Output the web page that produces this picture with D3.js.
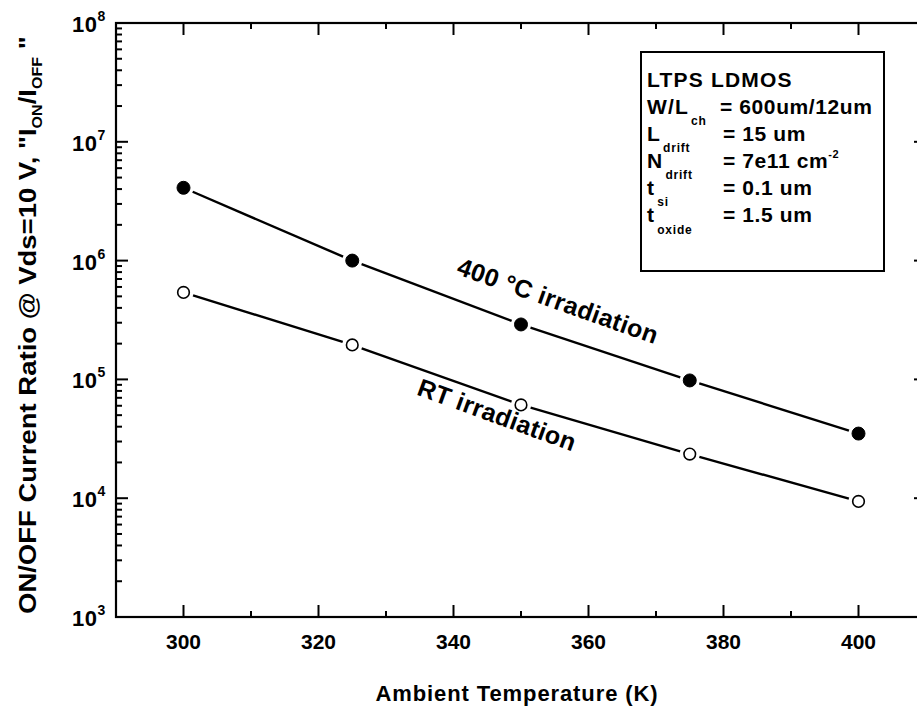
<!DOCTYPE html>
<html>
<head>
<meta charset="utf-8">
<script src="https://cdn.jsdelivr.net/npm/d3@7/dist/d3.min.js"></script>
<style>
  html, body { margin: 0; padding: 0; background: #fff; }
  svg { display: block; font-family: "Liberation Sans", Arial, sans-serif; font-weight: bold; }
</style>
</head>
<body>
<svg id="chart" width="917" height="711"></svg>
<script>
// Ambient temperature (K) at which the ON/OFF ratio was measured
const temperatures = [300, 325, 350, 375, 400];
// ON/OFF current ratio, 400 °C irradiation
const ratio400C = [4.1e6, 1.0e6, 2.9e5, 9.8e4, 3.5e4];
// ON/OFF current ratio, room-temperature irradiation
const ratioRT = [5.4e5, 1.95e5, 6.1e4, 2.35e4, 9.4e3];
// Axis ticks
const xTicks = [300, 320, 340, 360, 380, 400];
const yExponents = [3, 4, 5, 6, 7, 8];

const svg = d3.select("#chart");
const plotLeft = 116, plotRight = 926, plotTop = 23, plotBottom = 617;

const x = d3.scaleLinear().domain([290, 410]).range([plotLeft, plotRight]);
const y = d3.scaleLog().domain([1e3, 1e8]).range([plotBottom, plotTop]);

const g = svg.append("g");

// frame
g.append("rect").attr("x", plotLeft).attr("y", plotTop)
  .attr("width", plotRight - plotLeft).attr("height", plotBottom - plotTop)
  .attr("fill", "none").attr("stroke", "#000").attr("stroke-width", 2.2);

// x ticks (major every 20, minor every 10), drawn inward on bottom and top
const xMinor = d3.range(290, 411, 10).filter(v => !xTicks.includes(v));
function xTickMarks(vals, len) {
  vals.forEach(v => {
    g.append("line").attr("x1", x(v)).attr("x2", x(v))
      .attr("y1", plotBottom).attr("y2", plotBottom - len).attr("stroke", "#000").attr("stroke-width", 2);
    g.append("line").attr("x1", x(v)).attr("x2", x(v))
      .attr("y1", plotTop).attr("y2", plotTop + len).attr("stroke", "#000").attr("stroke-width", 2);
  });
}
xTickMarks(xTicks, 12);
xTickMarks(xMinor, 6);

// y ticks: decades major, 2..9 minor, on left and right
const yMajor = yExponents.map(e => Math.pow(10, e));
const yMinor = [];
yExponents.slice(0, -1).forEach(e => {
  for (let k = 2; k <= 9; k++) yMinor.push(k * Math.pow(10, e));
});
function yTickMarks(vals, len) {
  vals.forEach(v => {
    g.append("line").attr("x1", plotLeft).attr("x2", plotLeft + len)
      .attr("y1", y(v)).attr("y2", y(v)).attr("stroke", "#000").attr("stroke-width", 2);
    g.append("line").attr("x1", plotRight).attr("x2", plotRight - len)
      .attr("y1", y(v)).attr("y2", y(v)).attr("stroke", "#000").attr("stroke-width", 2);
  });
}
yTickMarks(yMajor, 12);
yTickMarks(yMinor, 6);

// x tick labels
g.selectAll(".xl").data(xTicks).enter().append("text")
  .attr("x", d => x(d)).attr("y", 649)
  .attr("text-anchor", "middle").attr("font-size", 21)
  .text(d => d);

// y tick labels: 10 with superscript exponent
yExponents.forEach(e => {
  const t = g.append("text").attr("x", 72).attr("y", y(Math.pow(10, e)) + 9)
    .attr("font-size", 22).attr("letter-spacing", 0.5);
  t.append("tspan").text("10");
  t.append("tspan").attr("font-size", 14).attr("dy", -11).text(e);
});

// axis titles
g.append("text").attr("x", 517).attr("y", 701).attr("text-anchor", "middle")
  .attr("font-size", 22).attr("letter-spacing", 0.9)
  .text("Ambient Temperature (K)");

const yt = g.append("text").attr("font-size", 24).attr("x", 0).attr("y", 0);
yt.append("tspan").text("ON/OFF Current Ratio @ Vds=10 V, \"I");
yt.append("tspan").attr("font-size", 14).attr("dy", 6).text("ON");
yt.append("tspan").attr("dy", -6).text("/I");
yt.append("tspan").attr("font-size", 14).attr("dy", 6).text("OFF");
yt.append("tspan").attr("dy", -6).text(" \"");
// stretch the rotated title to span the plot height
{
  const bb = yt.node().getBBox();
  const target = 578, sx = target / bb.width;
  const cx = bb.x + bb.width / 2;
  yt.attr("transform", `translate(36,325) rotate(-90) scale(${sx},1) translate(${-cx},0)`);
}

// series: line segments broken around each marker
function drawSeries(vals, filled) {
  const pts = temperatures.map((t, i) => [x(t), y(vals[i])]);
  const gap = 10;
  for (let i = 0; i < pts.length - 1; i++) {
    const [x1, y1] = pts[i], [x2, y2] = pts[i + 1];
    const dx = x2 - x1, dy = y2 - y1, L = Math.hypot(dx, dy);
    const ux = dx / L, uy = dy / L;
    g.append("line")
      .attr("x1", x1 + ux * gap).attr("y1", y1 + uy * gap)
      .attr("x2", x2 - ux * gap).attr("y2", y2 - uy * gap)
      .attr("stroke", "#000").attr("stroke-width", 2.4);
  }
  g.selectAll(null).data(pts).enter().append("circle")
    .attr("cx", d => d[0]).attr("cy", d => d[1])
    .attr("r", filled ? 6.5 : 5.8)
    .attr("fill", filled ? "#000" : "#fff")
    .attr("stroke", "#000").attr("stroke-width", filled ? 1 : 1.6);
}
drawSeries(ratio400C, true);
drawSeries(ratioRT, false);

// series annotations
g.append("text").attr("transform", "translate(555,309) rotate(19.5)")
  .attr("text-anchor", "middle").attr("font-size", 25).attr("letter-spacing", 0.3)
  .text("400 °C irradiation");
g.append("text").attr("transform", "translate(494,423) rotate(20)")
  .attr("text-anchor", "middle").attr("font-size", 25).attr("letter-spacing", 0.3)
  .text("RT irradiation");

// device parameter box
g.append("rect").attr("x", 641).attr("y", 52).attr("width", 243).attr("height", 219)
  .attr("fill", "#fff").attr("stroke", "#000").attr("stroke-width", 2);

const params = [
  { main: "LTPS LDMOS", sub: "", value: "" },
  { main: "W/L", sub: "ch", value: "= 600um/12um" },
  { main: "L", sub: "drift", value: "= 15 um" },
  { main: "N", sub: "drift", value: "= 7e11 cm", sup: "-2" },
  { main: "t", sub: "si", value: "= 0.1 um" },
  { main: "t", sub: "oxide", value: "= 1.5 um" }
];
params.forEach((p, i) => {
  const by = 86.5 + i * 27.1;
  const t = g.append("text").attr("x", 647).attr("y", by)
    .attr("font-size", 21).attr("letter-spacing", 1.2);
  t.append("tspan").text(p.main);
  if (p.sub) t.append("tspan").attr("font-size", 12).attr("dy", 11.5)
    .attr("letter-spacing", 0.8).attr("dx", 2).text(p.sub);
  if (p.value) {
    const vx = i === 1 ? 720 : 723;
    const v = g.append("text").attr("x", vx).attr("y", by)
      .attr("font-size", 21).attr("letter-spacing", 0.6);
    v.append("tspan").text(p.value);
    if (p.sup) v.append("tspan").attr("font-size", 11).attr("dy", -10).text(p.sup);
  }
});
</script>
</body>
</html>
